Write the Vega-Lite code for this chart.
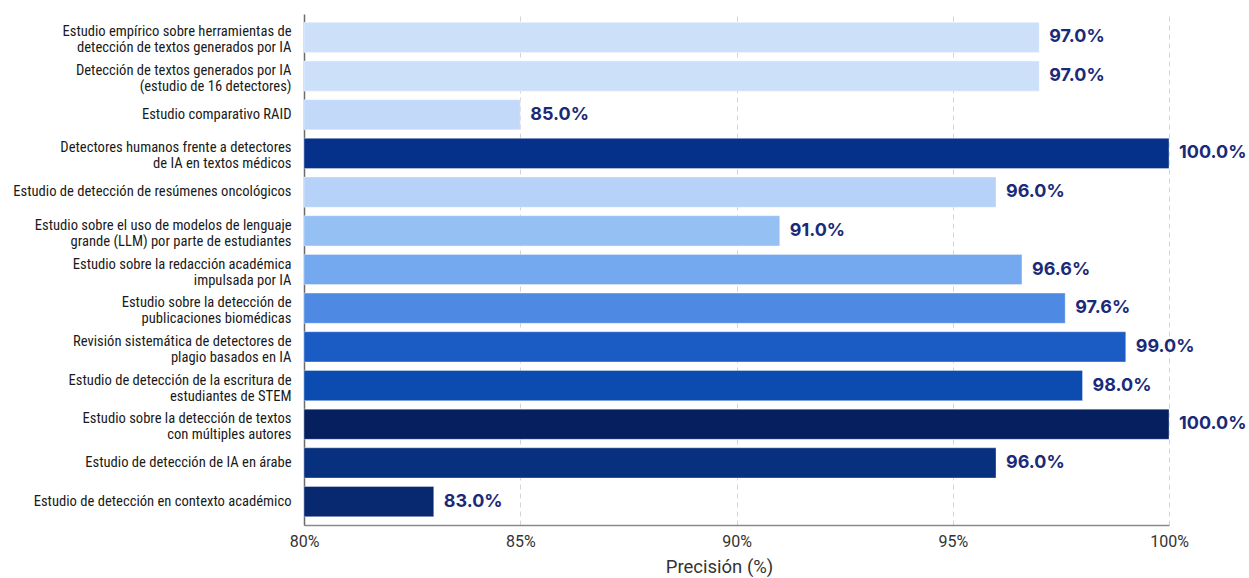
{
  "$schema": "https://vega.github.io/schema/vega-lite/v6.json",
  "width": 865,
  "height": 511,
  "autosize": {"type": "none"},
  "padding": {"left": 304, "top": 14, "right": 80, "bottom": 53},
  "background": "#ffffff",
  "config": {"view": {"stroke": null}},
  "data": {
    "values": [
      {"estudio": "Estudio empírico sobre herramientas de\ndetección de textos generados por IA", "precision": 97.0},
      {"estudio": "Detección de textos generados por IA\n(estudio de 16 detectores)", "precision": 97.0},
      {"estudio": "Estudio comparativo RAID", "precision": 85.0},
      {"estudio": "Detectores humanos frente a detectores\nde IA en textos médicos", "precision": 100.0},
      {"estudio": "Estudio de detección de resúmenes oncológicos", "precision": 96.0},
      {"estudio": "Estudio sobre el uso de modelos de lenguaje\ngrande (LLM) por parte de estudiantes", "precision": 91.0},
      {"estudio": "Estudio sobre la redacción académica\nimpulsada por IA", "precision": 96.6},
      {"estudio": "Estudio sobre la detección de\npublicaciones biomédicas", "precision": 97.6},
      {"estudio": "Revisión sistemática de detectores de\nplagio basados en IA", "precision": 99.0},
      {"estudio": "Estudio de detección de la escritura de\nestudiantes de STEM", "precision": 98.0},
      {"estudio": "Estudio sobre la detección de textos\ncon múltiples autores", "precision": 100.0},
      {"estudio": "Estudio de detección de IA en árabe", "precision": 96.0},
      {"estudio": "Estudio de detección en contexto académico", "precision": 83.0}
    ]
  },
  "encoding": {
    "y": {
      "field": "estudio",
      "type": "nominal",
      "sort": null,
      "scale": {"paddingInner": 0.22, "paddingOuter": 0.215},
      "axis": {
        "title": null,
        "labelExpr": "split(datum.label, '\\n')",
        "labelFont": "Roboto Condensed, DejaVu Sans Condensed, Liberation Sans Narrow, Roboto",
        "labelFontSize": 14.6,
        "labelLineHeight": 16,
        "labelColor": "#1a1a1a",
        "labelPadding": 13,
        "labelLimit": 320,
        "labelOffset": {"condition": {"test": "indexof(datum.value, '\\n') >= 0", "value": -5}, "value": 0},
        "ticks": false,
        "domain": true,
        "domainColor": "#6b6b6b",
        "domainWidth": 1.5,
        "grid": false
      }
    }
  },
  "layer": [
    {
      "mark": {"type": "bar", "stroke": "#ffffff", "strokeOpacity": 0.35, "strokeWidth": 1},
      "encoding": {
        "x": {
          "field": "precision",
          "type": "quantitative",
          "scale": {"domain": [80, 100], "clamp": true},
          "axis": {
            "title": "Precisión (%)",
            "titleFont": "Roboto",
            "titleFontSize": 18.5,
            "titleFontWeight": "normal",
            "titleColor": "#333333",
            "titlePadding": 8,
            "titleX": 415,
            "values": [80, 85, 90, 95, 100],
            "labelExpr": "datum.value + '%'",
            "labelFont": "Roboto",
            "labelFontSize": 16,
            "labelColor": "#333333",
            "labelPadding": 8,
            "labelFlush": false,
            "ticks": false,
            "domainColor": "#8a8a8a",
            "domainWidth": 1.5,
            "grid": true,
            "gridColor": "#d4d4d4",
            "gridDash": [5, 4],
            "gridWidth": 1
          }
        },
        "x2": {"datum": 80},
        "color": {
          "field": "estudio",
          "type": "nominal",
          "legend": null,
          "scale": {
            "domain": [
              "Estudio empírico sobre herramientas de\ndetección de textos generados por IA",
              "Detección de textos generados por IA\n(estudio de 16 detectores)",
              "Estudio comparativo RAID",
              "Detectores humanos frente a detectores\nde IA en textos médicos",
              "Estudio de detección de resúmenes oncológicos",
              "Estudio sobre el uso de modelos de lenguaje\ngrande (LLM) por parte de estudiantes",
              "Estudio sobre la redacción académica\nimpulsada por IA",
              "Estudio sobre la detección de\npublicaciones biomédicas",
              "Revisión sistemática de detectores de\nplagio basados en IA",
              "Estudio de detección de la escritura de\nestudiantes de STEM",
              "Estudio sobre la detección de textos\ncon múltiples autores",
              "Estudio de detección de IA en árabe",
              "Estudio de detección en contexto académico"
            ],
            "range": ["#cde0fa", "#cde0fa", "#c2d9f9", "#06318a", "#b6d2f8", "#95c0f4", "#74a9ef", "#4e8ae3", "#1a5bc4", "#0c4cb0", "#061f5e", "#07307f", "#08296f"]
          }
        }
      }
    },
    {
      "mark": {"type": "text", "align": "left", "baseline": "middle", "dx": 10, "font": "Inter", "fontSize": 18, "fontWeight": "bold", "color": "#1b2a78", "text": {"expr": "format(datum.precision, '.1f') + '%'"}},
      "encoding": {
        "x": {"field": "precision", "type": "quantitative"},
        "y": {"field": "estudio", "type": "nominal", "sort": null}
      }
    }
  ]
}
